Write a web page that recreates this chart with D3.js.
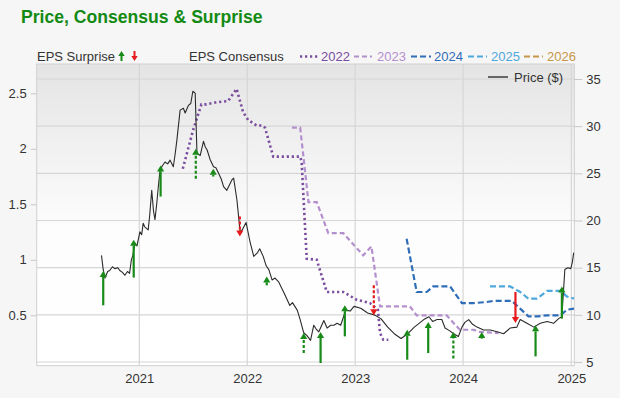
<!DOCTYPE html>
<html><head><meta charset="utf-8">
<script src="https://cdn.jsdelivr.net/npm/d3@7"></script>
<style>
body{margin:0;background:#f6f6f6;}
svg{display:block;font-family:"Liberation Sans",Arial,Helvetica,sans-serif;}
</style></head><body><svg id="c" width="620" height="398"></svg>
<script>
// ---------- DATA ----------
const title = "Price, Consensus & Surprise";
const yearTicks = ["2021-01-01","2022-01-01","2023-01-01","2024-01-01","2025-01-01"];
const epsTicks = [0.5, 1, 1.5, 2, 2.5];
const priceTicks = [5, 10, 15, 20, 25, 30, 35];

const priceDates = ["2020-08-26","2020-09-01","2020-09-07","2020-09-16","2020-09-23","2020-10-02","2020-10-10","2020-10-20","2020-10-27","2020-11-05","2020-11-13","2020-11-22","2020-11-29","2020-12-05","2020-12-10","2020-12-17","2020-12-24","2021-01-03","2021-01-09","2021-01-14","2021-01-20","2021-01-31","2021-02-05","2021-02-12","2021-02-18","2021-02-23","2021-03-01","2021-03-06","2021-03-12","2021-03-20","2021-03-29","2021-04-07","2021-04-15","2021-04-26","2021-05-02","2021-05-08","2021-05-19","2021-05-30","2021-06-05","2021-06-16","2021-06-24","2021-07-01","2021-07-09","2021-07-15","2021-07-26","2021-08-06","2021-08-12","2021-08-18","2021-08-28","2021-09-09","2021-09-17","2021-09-26","2021-10-05","2021-10-13","2021-10-24","2021-11-10","2021-11-16","2021-11-27","2021-12-08","2021-12-15","2021-12-28","2022-01-10","2022-01-23","2022-02-05","2022-02-12","2022-02-24","2022-03-06","2022-03-15","2022-03-26","2022-04-05","2022-04-17","2022-04-28","2022-05-06","2022-05-16","2022-05-25","2022-06-03","2022-06-19","2022-06-28","2022-07-11","2022-07-22","2022-08-03","2022-08-14","2022-08-22","2022-08-31","2022-09-17","2022-09-28","2022-10-10","2022-10-21","2022-11-01","2022-11-13","2022-11-30","2022-12-15","2022-12-28","2023-01-20","2023-02-12","2023-03-06","2023-03-29","2023-04-21","2023-05-13","2023-06-05","2023-06-28","2023-07-20","2023-08-05","2023-08-21","2023-09-07","2023-09-20","2023-10-05","2023-10-21","2023-11-01","2023-11-17","2023-11-30","2023-12-16","2023-12-28","2024-01-07","2024-01-20","2024-02-02","2024-02-17","2024-03-10","2024-04-02","2024-04-25","2024-05-17","2024-06-08","2024-07-01","2024-07-12","2024-08-04","2024-08-27","2024-09-18","2024-10-11","2024-11-02","2024-11-19","2024-11-30","2024-12-10","2024-12-20","2024-12-30","2025-01-04","2025-01-09"];
const priceValues = [16.3,14.8,13.9,14.6,14.7,15.1,14.9,15.0,14.7,14.5,14.2,14.6,14.4,15.8,16.3,17.6,17.3,18.8,18.5,19.7,19.3,19.0,20.5,23.2,21.0,20.1,21.8,23.5,25.3,25.8,26.2,26.0,26.4,25.7,27.0,28.5,31.7,31.9,31.4,32.2,32.4,33.7,33.5,27.1,26.9,28.4,27.8,27.5,26.5,25.7,25.6,25.0,24.4,23.6,23.2,24.3,24.5,22.2,18.8,19.0,19.8,17.8,16.2,16.6,17.0,16.2,15.2,14.8,13.7,13.9,13.5,12.8,12.3,11.6,11.0,11.3,10.5,9.6,8.1,7.8,7.3,8.9,8.5,8.2,9.4,8.6,8.9,8.9,9.1,8.9,10.5,10.4,10.9,10.7,10.2,10.0,9.6,8.7,8.0,7.5,8.0,8.7,9.1,9.5,9.8,9.3,9.5,9.5,8.6,8.3,8.0,7.7,8.7,9.2,9.5,9.0,8.7,8.4,8.4,8.2,8.0,8.6,8.7,9.5,9.1,8.7,9.1,9.3,9.1,9.6,9.8,14.8,15.0,14.9,15.5,16.6];

const consensus2022Dates = ["2021-05-28","2021-07-02","2021-07-30","2021-08-16","2021-09-19","2021-10-28","2021-11-26","2021-12-18","2022-01-04","2022-02-02","2022-02-19","2022-03-02","2022-03-30","2022-06-29","2022-07-04","2022-07-21","2022-08-24","2022-09-27","2022-11-22","2023-01-06","2023-02-20","2023-03-19","2023-03-26","2023-04-06","2023-04-23"];
const consensus2022Values = [1.82,2.17,2.40,2.40,2.42,2.43,2.54,2.33,2.26,2.21,2.21,2.19,1.93,1.93,1.88,1.01,1.00,0.71,0.71,0.64,0.61,0.55,0.34,0.28,0.28];
const consensus2023Dates = ["2022-06-01","2022-06-29","2022-07-10","2022-07-27","2022-08-24","2022-10-02","2022-11-22","2023-01-28","2023-02-25","2023-03-26","2023-07-05","2023-07-28","2023-11-06","2023-12-21","2024-02-05","2024-02-27","2024-04-30"];
const consensus2023Values = [2.19,2.19,1.93,1.52,1.52,1.24,1.24,1.04,1.12,0.58,0.58,0.50,0.50,0.37,0.37,0.35,0.34];
const consensus2024Dates = ["2023-06-24","2023-07-28","2023-08-31","2023-09-22","2023-11-18","2023-12-28","2024-02-05","2024-03-21","2024-04-12","2024-06-14","2024-07-12","2024-08-09","2024-09-07","2024-10-11","2024-11-25","2024-12-17","2025-01-10"];
const consensus2024Values = [1.19,0.71,0.71,0.76,0.76,0.61,0.61,0.62,0.63,0.63,0.56,0.49,0.49,0.50,0.50,0.55,0.56];
const consensus2025Dates = ["2024-04-01","2024-06-08","2024-07-12","2024-08-09","2024-09-07","2024-10-11","2024-11-25","2024-12-17","2025-01-10"];
const consensus2025Values = [0.76,0.76,0.71,0.65,0.65,0.72,0.72,0.67,0.65];
const consensus2026Dates = [];
const consensus2026Values = [];

const surpriseDates = ["2020-09-01","2020-12-13","2021-03-14","2021-07-11","2021-09-08","2021-12-07","2022-03-08","2022-07-11","2022-09-06","2022-11-27","2023-03-05","2023-06-26","2023-09-05","2023-11-29","2024-03-04","2024-06-26","2024-09-02","2024-11-30"];
const surpriseEstimate = [0.59,0.84,1.57,1.73,1.75,1.39,0.77,0.16,0.07,0.31,0.77,0.10,0.16,0.11,0.29,0.71,0.13,0.47];
const surpriseActual   = [0.90,1.18,1.85,2.00,1.82,1.21,0.85,0.34,0.35,0.59,0.50,0.37,0.44,0.35,0.35,0.43,0.41,0.76];
const surpriseProjected = [false,false,false,true,false,true,false,true,false,false,true,false,false,true,false,false,false,false];

const consensusSeries = ["2022","2023","2024","2025","2026"];

// ---------- CHART ----------
const parse = d3.timeParse("%Y-%m-%d");
const svg = d3.select("#c");
const L = 36.7, R = 574.3, T = 64, B = 365.7;

const x = d3.scaleTime().domain([parse("2020-01-20"), parse("2025-01-11")]).range([L, R]);
const yEps = d3.scaleLinear().domain([0.046, 2.764]).range([B, T]);
const yPrice = d3.scaleLinear().domain([4.61, 36.59]).range([B, T]);

const defs = svg.append("defs");
const grad = defs.append("linearGradient").attr("id","bg").attr("x1",0).attr("x2",0).attr("y1",0).attr("y2",1);
grad.append("stop").attr("offset","0%").attr("stop-color","#e4e4e4");
grad.append("stop").attr("offset","55%").attr("stop-color","#fdfdfd");
grad.append("stop").attr("offset","100%").attr("stop-color","#ffffff");
defs.append("clipPath").attr("id","clip").append("rect").attr("x",L).attr("y",T).attr("width",R-L).attr("height",B-T);

svg.append("rect").attr("x",L).attr("y",T).attr("width",R-L).attr("height",B-T).attr("fill","url(#bg)");

// grid
const grid = svg.append("g");
grid.selectAll(".h").data(priceTicks).join("line")
  .attr("x1",L).attr("x2",R).attr("y1",d=>yPrice(d)).attr("y2",d=>yPrice(d))
  .attr("stroke","#d6d6d6").attr("stroke-width",1.2);
grid.selectAll(".v").data(yearTicks.map(parse)).join("line")
  .attr("x1",d=>x(d)).attr("x2",d=>x(d)).attr("y1",T).attr("y2",B)
  .attr("stroke","#d6d6d6").attr("stroke-width",1.2);
svg.append("rect").attr("x",L).attr("y",T).attr("width",R-L).attr("height",B-T)
  .attr("fill","none").attr("stroke","#d0d0d0").attr("stroke-width",1);

// axes
function styleAxis(g){
  g.select(".domain").remove();
  g.selectAll(".tick line").attr("stroke","#c8c8c8");
  g.selectAll(".tick text").attr("fill","#333").style("font-size","13px").style("font-family","'Liberation Sans',Arial,sans-serif");
}
svg.append("g").attr("transform",`translate(${L},0)`)
  .call(d3.axisLeft(yEps).tickValues(epsTicks).tickSize(6).tickPadding(4).tickFormat(d=>d3.format("")(d)))
  .call(styleAxis);
svg.append("g").attr("transform",`translate(${R},0)`)
  .call(d3.axisRight(yPrice).tickValues(priceTicks).tickSize(8).tickPadding(4))
  .call(styleAxis);
svg.append("g").attr("transform",`translate(0,${B})`)
  .call(d3.axisBottom(x).tickValues(yearTicks.map(parse)).tickSize(0).tickPadding(8).tickFormat(d3.timeFormat("%Y")))
  .call(styleAxis);

const plot = svg.append("g").attr("clip-path","url(#clip)");

// consensus lines
const cStyles = {
  "2022": {c:"#7a4d9e", dash:"2.2,2.8", w:2.6},
  "2023": {c:"#b48fcd", dash:"5,3", w:2.2},
  "2024": {c:"#2f6db8", dash:"6,3", w:2.2},
  "2025": {c:"#4ea8dc", dash:"6,3", w:2.2},
  "2026": {c:"#c8964a", dash:"6,3", w:2.2}
};
const cData = {
  "2022": consensus2022Dates.map((d,i)=>[parse(d),consensus2022Values[i]]),
  "2023": consensus2023Dates.map((d,i)=>[parse(d),consensus2023Values[i]]),
  "2024": consensus2024Dates.map((d,i)=>[parse(d),consensus2024Values[i]]),
  "2025": consensus2025Dates.map((d,i)=>[parse(d),consensus2025Values[i]]),
  "2026": consensus2026Dates.map((d,i)=>[parse(d),consensus2026Values[i]])
};
const epsLine = d3.line().x(d=>x(d[0])).y(d=>yEps(d[1]));
consensusSeries.forEach(k=>{
  if(!cData[k].length) return;
  plot.append("path").datum(cData[k]).attr("d",epsLine).attr("fill","none")
    .attr("stroke",cStyles[k].c).attr("stroke-width",cStyles[k].w).attr("stroke-dasharray",cStyles[k].dash);
});

// price line
const pData = priceDates.map((d,i)=>[parse(d),priceValues[i]]);
plot.append("path").datum(pData)
  .attr("d",d3.line().x(d=>x(d[0])).y(d=>yPrice(d[1])))
  .attr("fill","none").attr("stroke","#2b2b2b").attr("stroke-width",1.1).attr("stroke-linejoin","round");

// surprise arrows
function arrow(g, cx, y0, y1, color, dashed, hw, hh, sw){
  const up = y1 < y0;
  const base = up ? y1 + hh : y1 - hh;
  g.append("line").attr("x1",cx).attr("x2",cx).attr("y1",y0).attr("y2",base)
    .attr("stroke",color).attr("stroke-width",sw).attr("stroke-dasharray",dashed?"3,2":null);
  g.append("path").attr("d",`M${cx-hw},${base}L${cx},${y1}L${cx+hw},${base}Z`).attr("fill",color);
}
const ag = svg.append("g");
surpriseDates.forEach((d,i)=>{
  const a = surpriseActual[i], e = surpriseEstimate[i];
  const color = a >= e ? "#178a17" : "#e8191c";
  arrow(ag, x(parse(d)), yEps(e), yEps(a), color, surpriseProjected[i], 3.6, 6, 2.2);
});

// title
svg.append("text").attr("x",21).attr("y",23).text(title)
  .attr("fill","#138a13").style("font-size","17.6px").style("font-weight","bold");

// legend
const lg = svg.append("g").style("font-size","13px");
lg.append("text").attr("x",37).attr("y",61).attr("fill","#333").text("EPS Surprise");
arrow(lg, 121.5, 61, 51, "#178a17", false, 3.2, 5, 2);
arrow(lg, 134.5, 51, 61, "#e8191c", false, 3.2, 5, 2);
lg.append("text").attr("x",189).attr("y",61).attr("fill","#333").text("EPS Consensus");
const legPos = {"2022":[300,318,321],"2023":[354,372,377],"2024":[411,431,434],"2025":[468,487,491],"2026":[524,543,547]};
consensusSeries.forEach(k=>{
  const p = legPos[k];
  lg.append("line").attr("x1",p[0]).attr("x2",p[1]).attr("y1",56.5).attr("y2",56.5)
    .attr("stroke",cStyles[k].c).attr("stroke-width",cStyles[k].w).attr("stroke-dasharray",cStyles[k].dash);
  lg.append("text").attr("x",p[2]).attr("y",61).attr("fill",cStyles[k].c).text(k);
});
// price legend
lg.append("line").attr("x1",488).attr("x2",508).attr("y1",77).attr("y2",77).attr("stroke","#666").attr("stroke-width",2);
lg.append("text").attr("x",514).attr("y",81.5).attr("fill","#333").text("Price ($)");
</script></body></html>
